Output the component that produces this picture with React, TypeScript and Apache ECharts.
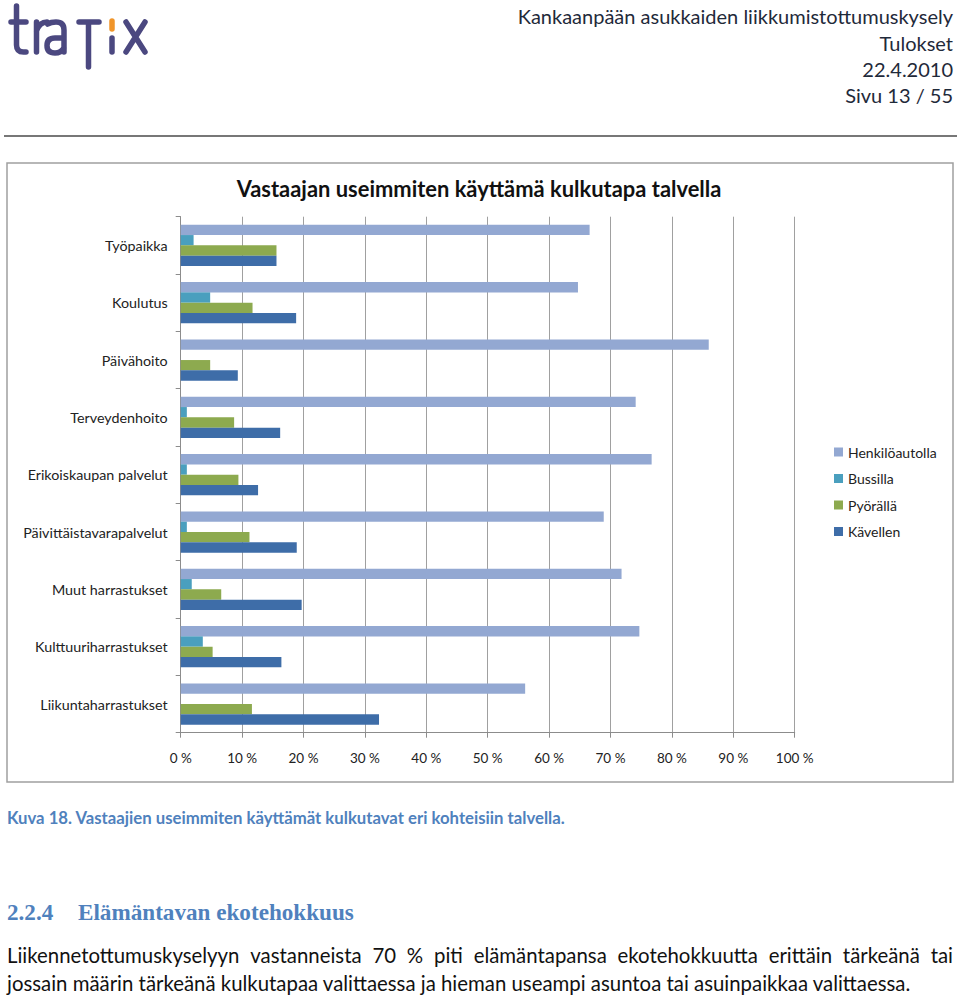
import React, { useEffect, useRef } from "react";
import * as echarts from "echarts";

const categories = [
  "Työpaikka",
  "Koulutus",
  "Päivähoito",
  "Terveydenhoito",
  "Erikoiskaupan palvelut",
  "Päivittäistavarapalvelut",
  "Muut harrastukset",
  "Kulttuuriharrastukset",
  "Liikuntaharrastukset",
];
const seriesNames = ["Henkilöautolla", "Bussilla", "Pyörällä", "Kävellen"];
const henkiloautolla = [66.6, 64.7, 86.0, 74.1, 76.7, 68.9, 71.8, 74.7, 56.1];
const bussilla = [2.1, 4.8, 0, 1.0, 1.0, 1.0, 1.8, 3.6, 0];
const pyoralla = [15.6, 11.7, 4.8, 8.7, 9.4, 11.2, 6.6, 5.2, 11.6];
const kavellen = [15.6, 18.8, 9.3, 16.2, 12.6, 18.9, 19.7, 16.4, 32.3];
const seriesColors = ["#93A8D2", "#4A9FBE", "#8DAA4F", "#3E6DA8"];

const chartTitle = "Vastaajan useimmiten käyttämä kulkutapa talvella";
const headerLines = [
  "Kankaanpään asukkaiden liikkumistottumuskysely",
  "Tulokset",
  "22.4.2010",
  "Sivu 13 / 55",
];
const caption = "Kuva 18. Vastaajien useimmiten käyttämät kulkutavat eri kohteisiin talvella.";
const headingNumber = "2.2.4";
const headingText = "Elämäntavan ekotehokkuus";
const paragraphLine1 =
  "Liikennetottumuskyselyyn vastanneista 70 % piti elämäntapansa ekotehokkuutta erittäin tärkeänä tai";
const paragraphLine2 =
  "jossain määrin tärkeänä kulkutapaa valittaessa ja hieman useampi asuntoa tai asuinpaikkaa valittaessa.";

const SANS = "Lato";
const SERIF = "Liberation Serif";

let ctx: CanvasRenderingContext2D | null = null;
function measure(text: string, font: string): number {
  if (!ctx) ctx = document.createElement("canvas").getContext("2d");
  if (!ctx) return text.length * 8;
  ctx.font = font;
  return ctx.measureText(text).width;
}
function fitSize(text: string, weight: string, family: string, target: number): number {
  const w = measure(text, `${weight} 100px ${family}`);
  return (100 * target) / w;
}

const logoPaths: Record<string, string> = {
  logoT: "M16.5 6 L16.5 45 Q16.5 52 23.5 52 L26 52 M11 22 L26 22",
  logoR: "M36.5 22 L36.5 52 M36.5 31 Q39.5 22 47 22",
  logoA: "M47.5 24 Q51 22 56 22 Q64 22 64 30 L64 52 M64 38 L55 38 Q47 38 47 45.5 Q47 53 55 53 Q61 53 64 48",
  logoF: "M79 22 L99 22 M88.5 22 L88.5 67",
  logoI: "M112 38 L112 52",
  logoX: "M126 22 L145 52 M145 22 L126 52",
  logoDot: "M112 21 L112 29",
};
let registered = false;
function registerLogo() {
  if (registered) return;
  registered = true;
  Object.keys(logoPaths).forEach((k) => {
    echarts.graphic.registerShape(k, echarts.graphic.extendPath(logoPaths[k], {}) as any);
  });
}

function textEl(text: string, x: number, y: number, size: number, opts: any = {}) {
  const align = opts.align || "left";
  return {
    type: "text",
    x,
    y,
    silent: true,
    style: {
      text,
      fontSize: size,
      fontFamily: opts.family || SANS,
      fontWeight: opts.weight || "normal",
      fill: opts.color || "#222",
      textAlign: align,
      align,
      textVerticalAlign: "middle",
      verticalAlign: "middle",
    },
  };
}

export default function App() {
  const ref = useRef<HTMLDivElement>(null);
  useEffect(() => {
    if (!ref.current) return;
    registerLogo();
    const chart = echarts.init(ref.current, undefined, { renderer: "svg" });

    const graphics: any[] = [];
    // logo
    Object.keys(logoPaths).forEach((k) => {
      graphics.push({
        type: k,
        x: 0,
        y: 0,
        silent: true,
        style: {
          fill: "none",
          stroke: k === "logoDot" ? "#F0952A" : "#4B4880",
          lineWidth: 5.5,
          lineCap: "round",
          lineJoin: "round",
        },
      });
    });
    // header
    const headerSize = Math.min(20, fitSize(headerLines[0], "normal", SANS, 438));
    const headerY = [16, 43, 69, 95];
    headerLines.forEach((t, i) => {
      graphics.push(textEl(t, 953, headerY[i], headerSize, { align: "right", color: "#1f2a3a" }));
    });
    // rule
    graphics.push({
      type: "line",
      silent: true,
      shape: { x1: 4, y1: 136, x2: 957, y2: 136 },
      style: { stroke: "#4a4a4a", lineWidth: 1.5 },
    });
    // chart border
    graphics.push({
      type: "rect",
      silent: true,
      shape: { x: 7, y: 163, width: 946, height: 619 },
      style: { fill: "none", stroke: "#a0a0a0", lineWidth: 1.5 },
    });
    // chart title
    const titleSize = fitSize(chartTitle, "bold", SANS, 485);
    graphics.push(textEl(chartTitle, 479, 188, titleSize, { align: "center", weight: "bold", color: "#111" }));
    // caption
    const capSize = fitSize(caption, "bold", SANS, 559);
    graphics.push(textEl(caption, 7, 817, capSize, { weight: "bold", color: "#4F81BD" }));
    // heading
    const headSize = fitSize(headingText, "bold", SERIF, 276);
    graphics.push(textEl(headingNumber, 7, 912, headSize, { weight: "bold", color: "#4F81BD", family: SERIF }));
    graphics.push(textEl(headingText, 78, 912, headSize, { weight: "bold", color: "#4F81BD", family: SERIF }));
    // paragraph
    const paraSize = fitSize(paragraphLine2, "normal", SANS, 905);
    graphics.push(textEl(paragraphLine2, 7, 983, paraSize, { color: "#111" }));
    const words = paragraphLine1.split(" ");
    const font = `normal ${paraSize}px ${SANS}`;
    const widths = words.map((w) => measure(w, font));
    const total = widths.reduce((a, b) => a + b, 0);
    const gap = (946 - total) / (words.length - 1);
    let cx = 7;
    words.forEach((w, i) => {
      graphics.push(textEl(w, cx, 955, paraSize, { color: "#111" }));
      cx += widths[i] + gap;
    });

    const dataSets = [henkiloautolla, bussilla, pyoralla, kavellen];

    chart.setOption({
      animation: false,
      backgroundColor: "#ffffff",
      textStyle: { fontFamily: SANS },
      grid: { left: 180.7, right: 165.3, top: 216.7, bottom: 265.3, containLabel: false },
      legend: {
        data: seriesNames,
        orient: "vertical",
        left: 829,
        top: 440,
        itemWidth: 9,
        itemHeight: 9,
        itemGap: 12.5,
        icon: "rect",
        textStyle: { fontSize: 14, color: "#222", fontFamily: SANS },
      },
      xAxis: {
        type: "value",
        min: 0,
        max: 100,
        interval: 10,
        axisLine: { show: true, lineStyle: { color: "#8c8c8c", width: 1 } },
        axisTick: { show: true, length: 5, lineStyle: { color: "#8c8c8c" } },
        axisLabel: { formatter: "{value} %", fontSize: 13.5, color: "#222", margin: 18, fontFamily: SANS },
        splitLine: { show: true, lineStyle: { color: "#a0a0a0", width: 1 } },
      },
      yAxis: {
        type: "category",
        data: categories,
        inverse: true,
        axisLine: { show: true, lineStyle: { color: "#8c8c8c", width: 1 } },
        axisTick: { show: true, length: 5, lineStyle: { color: "#8c8c8c" } },
        axisLabel: { fontSize: 14.3, color: "#222", margin: 13, fontFamily: SANS },
        splitLine: { show: false },
      },
      series: seriesNames.map((name, i) => ({
        name,
        type: "bar",
        data: dataSets[i],
        barGap: "0%",
        barCategoryGap: "28%",
        itemStyle: { color: seriesColors[i] },
        silent: true,
      })),
      graphic: graphics,
    });
    return () => chart.dispose();
  }, []);
  return (
    <div
      ref={ref}
      style={{ position: "fixed", left: 0, top: 0, width: 960, height: 998, background: "#fff" }}
    />
  );
}
